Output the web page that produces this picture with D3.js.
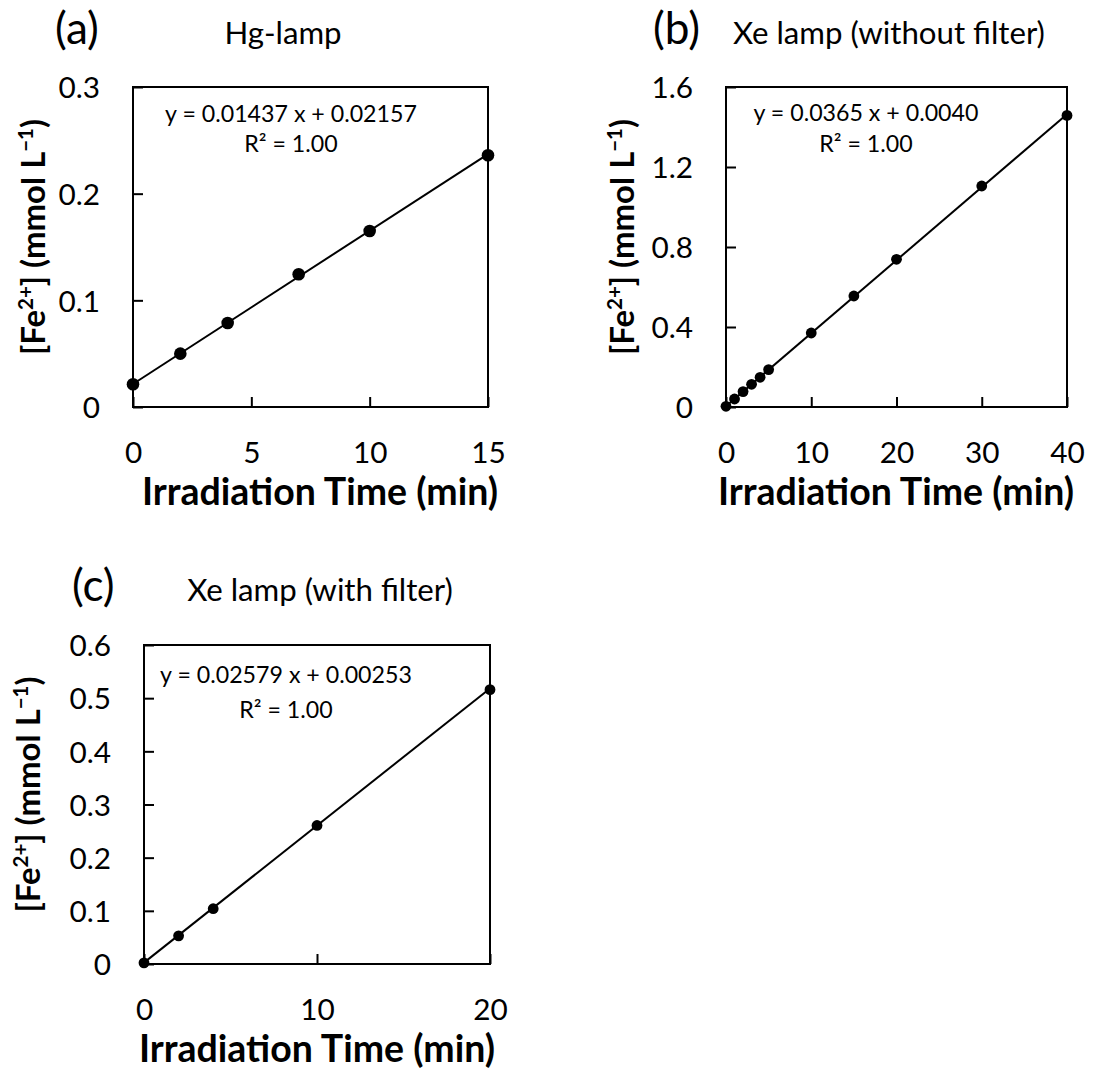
<!DOCTYPE html>
<html><head><meta charset="utf-8">
<script src="https://cdn.jsdelivr.net/npm/d3@7"></script>
<style>
body{margin:0;background:#fff}
svg{display:block}
text{font-family:Lato,'Open Sans',sans-serif;fill:#000}
</style>
</head><body>
<svg id="chart" width="1107" height="1073"></svg>
<script>
// ---------------- data ----------------
const aTime = [0, 2, 4, 7, 10, 15];
const aFe   = [0.0213, 0.050, 0.0787, 0.1244, 0.165, 0.236];
const aFit  = [0.01437, 0.02157];
const aXTicks = [0, 5, 10, 15];
const aXLabels = ["0", "5", "10", "15"];
const aYTicks = [0, 0.1, 0.2, 0.3];
const aYLabels = ["0", "0.1", "0.2", "0.3"];

const bTime = [0, 1, 2, 3, 4, 5, 10, 15, 20, 30, 40];
const bFe   = [0.0035, 0.040, 0.077, 0.1135, 0.1485, 0.187, 0.370, 0.555, 0.7385, 1.105, 1.458];
const bFit  = [0.0365, 0.0040];
const bXTicks = [0, 10, 20, 30, 40];
const bXLabels = ["0", "10", "20", "30", "40"];
const bYTicks = [0, 0.4, 0.8, 1.2, 1.6];
const bYLabels = ["0", "0.4", "0.8", "1.2", "1.6"];

const cTime = [0, 2, 4, 10, 20];
const cFe   = [0.002, 0.053, 0.104, 0.2606, 0.516];
const cFit  = [0.02579, 0.00253];
const cXTicks = [0, 10, 20];
const cXLabels = ["0", "10", "20"];
const cYTicks = [0, 0.1, 0.2, 0.3, 0.4, 0.5, 0.6];
const cYLabels = ["0", "0.1", "0.2", "0.3", "0.4", "0.5", "0.6"];

const panelLetters = ["(a)", "(b)", "(c)"];
const panelTitles = ["Hg-lamp", "Xe lamp (without filter)", "Xe lamp (with filter)"];
const equations = ["y = 0.01437 x + 0.02157", "y = 0.0365 x + 0.0040", "y = 0.02579 x + 0.00253"];
const r2Labels = ["R\u00B2 = 1.00", "R\u00B2 = 1.00", "R\u00B2 = 1.00"];
const xTitle = "Irradiation Time (min)";

// ---------------- layout ----------------
const svg = d3.select("#chart");

function measure(str, weight, size) {
  const t = svg.append("text").attr("font-size", size).attr("font-weight", weight).text(str);
  const w = t.node().getComputedTextLength();
  t.remove();
  return w;
}
const tickSize  = 100 * 34.5 / measure("10", 400, 100);
const titleSize = 100 * 312 / measure("Xe lamp (without filter)", 400, 100);
const letterSize = 100 * 47 / measure("(b)", 400, 100);
const axisTitleSize = 100 * 356 / measure(xTitle, 700, 100);
const eqSize = 100 * 252 / measure(equations[0], 400, 100);

function yTitle(g, size) {
  const t = g.append("text").attr("font-size", size).attr("font-weight", 700);
  const sup = size * 0.62, up = size * 0.38;
  t.append("tspan").text("[Fe");
  t.append("tspan").attr("font-size", sup).attr("dy", -up).text("2+");
  t.append("tspan").attr("dy", up).text("] (mmol L");
  t.append("tspan").attr("font-size", sup).attr("dy", -up).text("\u22121");
  t.append("tspan").attr("dy", up).text(")");
  return t;
}
const tmpT = yTitle(svg, 100);
const yTitleSize = 100 * 236 / tmpT.node().getComputedTextLength();
tmpT.remove();

const panels = [
  {time: aTime, fe: aFe, fit: aFit, xDomain: [0, 15], yDomain: [0, 0.3],
   xTicks: aXTicks, xLabels: aXLabels, yTicks: aYTicks, yLabels: aYLabels,
   box: {left: 133, right: 488, top: 87, bottom: 407}, r: 6.3,
   letter: {x: 55, y: 44}, title: {x: 283, y: 44}, yt: {x: 45},
   eq: {x: 291, y1: 122, y2: 152}, xtc: 320},
  {time: bTime, fe: bFe, fit: bFit, xDomain: [0, 40], yDomain: [0, 1.6],
   xTicks: bXTicks, xLabels: bXLabels, yTicks: bYTicks, yLabels: bYLabels,
   box: {left: 726, right: 1067, top: 87, bottom: 407}, r: 5.4,
   letter: {x: 653, y: 44}, title: {x: 889, y: 44}, yt: {x: 634},
   eq: {x: 866, y1: 121, y2: 152}, xtc: 896},
  {time: cTime, fe: cFe, fit: cFit, xDomain: [0, 20], yDomain: [0, 0.6],
   xTicks: cXTicks, xLabels: cXLabels, yTicks: cYTicks, yLabels: cYLabels,
   box: {left: 144, right: 490, top: 645, bottom: 964}, r: 5.4,
   letter: {x: 72, y: 601}, title: {x: 320, y: 601}, yt: {x: 40},
   eq: {x: 286, y1: 683, y2: 718}, xtc: 317}
];

panels.forEach((p, i) => {
  const g = svg.append("g");
  const b = p.box;
  const x = d3.scaleLinear().domain(p.xDomain).range([b.left, b.right]);
  const y = d3.scaleLinear().domain(p.yDomain).range([b.bottom, b.top]);

  // axes with inward ticks
  const xa = g.append("g").attr("transform", `translate(0,${b.bottom})`)
    .call(d3.axisBottom(x).tickValues(p.xTicks).tickSizeInner(-10).tickSizeOuter(0)
      .tickFormat((d, k) => p.xLabels[k]));
  xa.select(".domain").remove();
  xa.selectAll(".tick line").attr("stroke", "#000").attr("stroke-width", 2);
  xa.selectAll(".tick text").attr("y", 56).attr("dy", null)
    .attr("font-size", tickSize).attr("font-family", "Lato").attr("fill", "#000");

  const ya = g.append("g").attr("transform", `translate(${b.left},0)`)
    .call(d3.axisLeft(y).tickValues(p.yTicks).tickSizeInner(-10).tickSizeOuter(0)
      .tickFormat((d, k) => p.yLabels[k]));
  ya.select(".domain").remove();
  ya.selectAll(".tick line").attr("stroke", "#000").attr("stroke-width", 2);
  ya.selectAll(".tick text").attr("x", -33).attr("dy", "0.36em")
    .attr("font-size", tickSize).attr("font-family", "Lato").attr("fill", "#000");

  // frame
  g.append("rect").attr("x", b.left).attr("y", b.top)
    .attr("width", b.right - b.left).attr("height", b.bottom - b.top)
    .attr("fill", "none").attr("stroke", "#000").attr("stroke-width", 2);

  // trendline
  const x0 = d3.min(p.time), x1 = d3.max(p.time);
  g.append("path")
    .attr("d", d3.line().x(d => x(d)).y(d => y(p.fit[0] * d + p.fit[1]))([x0, x1]))
    .attr("fill", "none").attr("stroke", "#000").attr("stroke-width", 2);

  // points
  g.selectAll("circle.pt").data(p.time.map((t, k) => [t, p.fe[k]])).enter()
    .append("circle").attr("class", "pt")
    .attr("cx", d => x(d[0])).attr("cy", d => y(d[1])).attr("r", p.r).attr("fill", "#000");

  // equation
  g.append("text").attr("x", p.eq.x).attr("y", p.eq.y1).attr("text-anchor", "middle")
    .attr("font-size", eqSize).text(equations[i]);
  g.append("text").attr("x", p.eq.x).attr("y", p.eq.y2).attr("text-anchor", "middle")
    .attr("font-size", eqSize).text(r2Labels[i]);

  // panel letter and title
  g.append("text").attr("x", p.letter.x).attr("y", p.letter.y)
    .attr("font-size", letterSize).text(panelLetters[i]);
  g.append("text").attr("x", p.title.x).attr("y", p.title.y).attr("text-anchor", "middle")
    .attr("font-size", titleSize).text(panelTitles[i]);

  // x title
  g.append("text").attr("x", p.xtc).attr("y", b.bottom + 98).attr("text-anchor", "middle")
    .attr("font-size", axisTitleSize).attr("font-weight", 700).text(xTitle);

  // y title
  const cy = (b.top + b.bottom) / 2 - 10;
  yTitle(g, yTitleSize).attr("text-anchor", "middle")
    .attr("transform", `translate(${p.yt.x},${cy}) rotate(-90)`);
});
</script>
</body></html>
